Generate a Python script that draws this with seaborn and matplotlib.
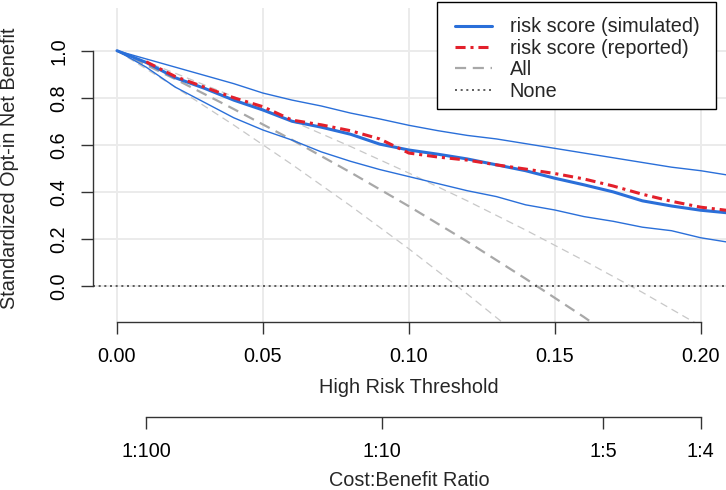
import numpy as np
import pandas as pd
import matplotlib
matplotlib.use("Agg")
import matplotlib.pyplot as plt
import matplotlib.transforms as mtransforms
from matplotlib.lines import Line2D
from matplotlib.patches import Rectangle
import seaborn as sns

# thresholds and standardized net benefit values
thresholds = [0.00, 0.01, 0.02, 0.03, 0.04, 0.05, 0.06, 0.07, 0.08, 0.09, 0.10,
              0.11, 0.12, 0.13, 0.14, 0.15, 0.16, 0.17, 0.18, 0.19, 0.20, 0.21]
simulated = [1.000, 0.950, 0.885, 0.840, 0.790, 0.748, 0.700, 0.675, 0.645, 0.603, 0.578,
             0.560, 0.540, 0.515, 0.490, 0.458, 0.430, 0.400, 0.362, 0.340, 0.322, 0.310]
simulated_upper = [1.000, 0.965, 0.930, 0.895, 0.860, 0.820, 0.790, 0.765, 0.735, 0.710, 0.683,
                   0.660, 0.640, 0.625, 0.605, 0.585, 0.565, 0.545, 0.525, 0.505, 0.490, 0.470]
simulated_lower = [1.000, 0.930, 0.845, 0.780, 0.715, 0.663, 0.620, 0.570, 0.530, 0.495, 0.465,
                   0.435, 0.405, 0.380, 0.345, 0.323, 0.295, 0.275, 0.250, 0.235, 0.205, 0.185]

reported_thresholds = thresholds[1:]
reported = [0.953, 0.890, 0.845, 0.800, 0.762, 0.705, 0.685, 0.660, 0.625, 0.565,
            0.548, 0.535, 0.515, 0.497, 0.478, 0.455, 0.425, 0.390, 0.360, 0.335, 0.320]

all_thresholds = [0.00, 0.02, 0.04, 0.06, 0.08, 0.10, 0.12, 0.14, 0.16, 0.18, 0.20]
treat_all = [1.000, 0.879, 0.752, 0.621, 0.483, 0.339, 0.189, 0.031, -0.132, -0.305, -0.490]
treat_all_upper = [1.000, 0.904, 0.805, 0.701, 0.593, 0.480, 0.362, 0.238, 0.108, -0.027, -0.170]
treat_all_lower = [1.000, 0.845, 0.684, 0.516, 0.341, 0.158, -0.034, -0.234, -0.440, -0.660, -0.890]

x_ticks = [0.00, 0.05, 0.10, 0.15, 0.20]
x_tick_labels = ["0.00", "0.05", "0.10", "0.15", "0.20"]
y_ticks = [0.0, 0.2, 0.4, 0.6, 0.8, 1.0]
y_tick_labels = ["0.0", "0.2", "0.4", "0.6", "0.8", "1.0"]
cb_ticks = [1 / 101, 1 / 11, 1 / 6, 1 / 5]
cb_labels = ["1:100", "1:10", "1:5", "1:4"]

sns.set_theme(style="white")
plt.rcParams['font.family'] = ['Liberation Sans', 'DejaVu Sans']
FS = 14.3

blue = "#2a6fd9"
red = "#e3202b"
gray_dark = "#a8a8a8"
gray_light = "#c8c8c8"
axis_col = "#333333"
none_style = (0, (1.2, 2.2))
red_style = (0, (3.3, 1.6, 1.0, 1.6))

W, H = 726, 490
fig = plt.figure(figsize=(W / 100, H / 100), dpi=100)
ax = fig.add_axes([92.7 / W, (H - 322) / H, (W - 92.7) / W, (322 - 8) / H])

# grid
for v in x_ticks:
    ax.axvline(v, color="#ebebeb", lw=1.4, zorder=0)
for v in y_ticks:
    ax.axhline(v, color="#ebebeb", lw=1.4, zorder=0)

# treat all with its interval
sns.lineplot(x=all_thresholds, y=treat_all_upper, ax=ax, color=gray_light, lw=0.9,
             linestyle=(0, (6, 4)), zorder=2)
sns.lineplot(x=all_thresholds, y=treat_all_lower, ax=ax, color=gray_light, lw=0.9,
             linestyle=(0, (6, 4)), zorder=2)
sns.lineplot(x=all_thresholds, y=treat_all, ax=ax, color=gray_dark, lw=1.6,
             linestyle=(0, (5, 3)), zorder=2)

# treat none
ax.axhline(0, color="#444444", lw=1.2, linestyle=none_style, zorder=2)

# risk score curves
sns.lineplot(x=thresholds, y=simulated_upper, ax=ax, color=blue, lw=1.0, zorder=3)
sns.lineplot(x=thresholds, y=simulated_lower, ax=ax, color=blue, lw=1.0, zorder=3)
sns.lineplot(x=thresholds, y=simulated, ax=ax, color=blue, lw=2.2, zorder=4)
sns.lineplot(x=reported_thresholds, y=reported, ax=ax, color=red, lw=2.2,
             linestyle=red_style, zorder=5)

ax.set_xlim(-24.3 / 2918.5, (W - 117) / 2918.5)
ax.set_ylim(-(322 - 286) / 235.3, (286 - 8) / 235.3)

for s in ["top", "right"]:
    ax.spines[s].set_visible(False)
for s in ["left", "bottom"]:
    ax.spines[s].set_color(axis_col)
    ax.spines[s].set_linewidth(1.0)
ax.spines["left"].set_bounds(0, 1)
ax.spines["bottom"].set_bounds(0, 0.2)

ax.set_xticks(x_ticks, x_tick_labels)
ax.set_yticks(y_ticks, y_tick_labels)
ax.tick_params(axis="x", length=0, labelsize=FS, labelcolor="black", pad=18.3)
ax.tick_params(axis="y", length=0, labelsize=FS, labelcolor="black", pad=17.5,
               labelrotation=90)
for lab in ax.get_yticklabels():
    lab.set_va("center")
ax.set_xlabel("")
ax.set_ylabel("")

# cost:benefit axis
ax2 = fig.add_axes([92.7 / W, (H - 417) / H, (W - 92.7) / W, 0.0001])
ax2.set_xlim(ax.get_xlim())
ax2.patch.set_visible(False)
for s in ["top", "right", "left"]:
    ax2.spines[s].set_visible(False)
ax2.spines["bottom"].set_color(axis_col)
ax2.spines["bottom"].set_linewidth(1.0)
ax2.spines["bottom"].set_bounds(cb_ticks[0], cb_ticks[-1])
ax2.set_yticks([])
ax2.set_xticks(cb_ticks, cb_labels)
ax2.tick_params(axis="x", length=0, labelsize=FS, labelcolor="black", pad=18.3)

# tick marks (outward, R style)
tx = mtransforms.blended_transform_factory(ax.transData, fig.transFigure)
for v in x_ticks:
    fig.add_artist(Line2D([v, v], [(H - 322) / H, (H - 333.5) / H], transform=tx,
                          color=axis_col, lw=1.0, solid_capstyle="butt"))
ty = mtransforms.blended_transform_factory(fig.transFigure, ax.transData)
for v in y_ticks:
    fig.add_artist(Line2D([81 / W, 92.7 / W], [v, v], transform=ty,
                          color=axis_col, lw=1.0, solid_capstyle="butt"))
tx2 = mtransforms.blended_transform_factory(ax2.transData, fig.transFigure)
for v in cb_ticks:
    fig.add_artist(Line2D([v, v], [(H - 417) / H, (H - 428.5) / H], transform=tx2,
                          color=axis_col, lw=1.0, solid_capstyle="butt"))

fig.text(10 / W, 1 - 168 / H, "Standardized Opt-in Net Benefit", rotation=90,
         ha="center", va="center", fontsize=FS)
fig.text((117 + 700.7) / 2 / W, 1 - 387 / H, "High Risk Threshold",
         ha="center", va="center", fontsize=FS)
fig.text((117 + 700.7) / 2 / W, 1 - 480 / H, "Cost:Benefit Ratio",
         ha="center", va="center", fontsize=FS)

# legend box and entries
fig.patches.append(Rectangle((437 / W, 1 - 109 / H), (716 - 437) / W, (109 - 2) / H,
                             transform=fig.transFigure, facecolor="white",
                             edgecolor="black", lw=1.0, zorder=10))
handles = [
    Line2D([], [], color=blue, lw=2.2),
    Line2D([], [], color=red, lw=2.2, linestyle=red_style),
    Line2D([], [], color=gray_dark, lw=1.6, linestyle=(0, (5, 3))),
    Line2D([], [], color="#444444", lw=1.2, linestyle=none_style),
]
labels = ["risk score (simulated)", "risk score (reported)", "All", "None"]
leg = fig.legend(handles, labels, loc="upper left", bbox_to_anchor=(455 / W, 1 - 17.5 / H),
                 borderaxespad=0, borderpad=0, fontsize=FS, frameon=False,
                 handlelength=1.85, handletextpad=0.9, labelspacing=0.12)
leg.set_zorder(11)

fig.savefig("out.png", dpi=100)
